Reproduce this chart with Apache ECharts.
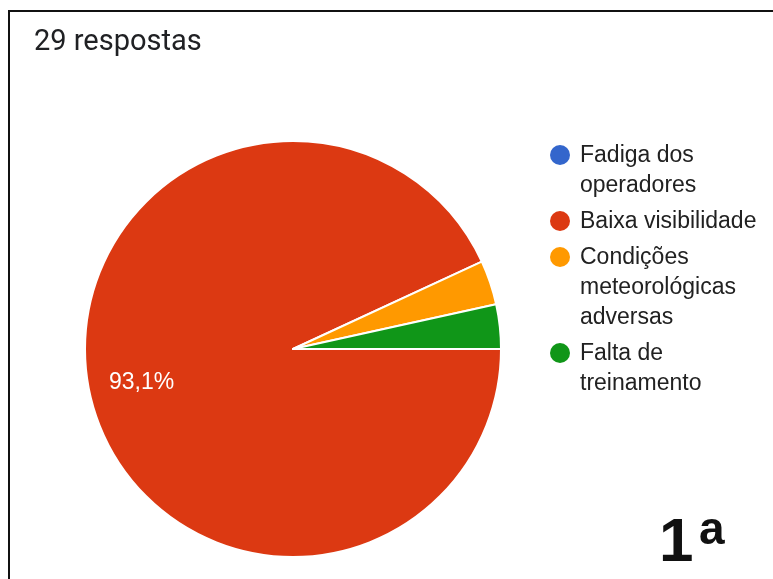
<!DOCTYPE html>
<html>
<head>
<meta charset="utf-8">
<script src="https://cdn.jsdelivr.net/npm/echarts@6/dist/echarts.min.js"></script>
<style>
  html, body { margin: 0; padding: 0; background: #ffffff; }
  #chart { width: 773px; height: 579px; }
</style>
</head>
<body>
<div id="chart"></div>
<script>
// Survey answers (29 respostas)
const categories = ['Fadiga dos operadores', 'Baixa visibilidade', 'Condições meteorológicas adversas', 'Falta de treinamento'];
const counts = [0, 27, 1, 1];
const colors = ['#3366cc', '#dc3912', '#ff9900', '#109618'];
const legendLines = [['Fadiga dos', 'operadores'], ['Baixa visibilidade'], ['Condições', 'meteorológicas', 'adversas'], ['Falta de', 'treinamento']];
const titleText = '29 respostas';
const cornerMark = ['1', 'a'];

const chart = echarts.init(document.getElementById('chart'), null, { renderer: 'canvas' });

const pieData = categories.map((name, i) => ({ name: name, value: counts[i], itemStyle: { color: colors[i] } }));

// Legend: circle + wrapped text, one block per category
const legendGraphics = [];
const lineH = 30, blockGap = 6, legendTop = 156, legendX = 560, textX = 580;
let y = legendTop;
legendLines.forEach((lines, i) => {
  legendGraphics.push({
    type: 'circle', shape: { cx: legendX, cy: y - 1, r: 10 },
    style: { fill: colors[i] }, silent: true
  });
  lines.forEach((ln, k) => {
    legendGraphics.push({
      type: 'text', x: textX, y: y + k * lineH,
      style: { text: ln, fill: '#212121', font: '23px "Liberation Sans", Arial, sans-serif', align: 'left', verticalAlign: 'middle' },
      silent: true
    });
  });
  y += lines.length * lineH + blockGap;
});

const option = {
  backgroundColor: '#ffffff',
  animation: false,
  graphic: [
    // frame lines along the top and left edges
    { type: 'polyline', shape: { points: [[9, 579], [9, 11], [773, 11]] }, style: { stroke: '#111111', lineWidth: 2, fill: null }, silent: true },
    { type: 'text', x: 34, y: 43, style: { text: titleText, fill: '#202124', font: '29px Roboto, "Liberation Sans", sans-serif', verticalAlign: 'middle' }, silent: true },
    { type: 'text', x: 659, y: 544, style: { text: cornerMark[0], fill: '#111111', font: 'bold 62px "Liberation Sans", Arial, sans-serif', verticalAlign: 'middle' }, silent: true },
    { type: 'text', x: 699, y: 531, style: { text: cornerMark[1], fill: '#111111', font: 'bold 46px "Liberation Sans", Arial, sans-serif', verticalAlign: 'middle' }, silent: true }
  ].concat(legendGraphics),
  series: [
    {
      type: 'pie',
      center: [293, 349],
      radius: 208,
      startAngle: 0,
      clockwise: true,
      silent: true,
      label: { show: false },
      labelLine: { show: false },
      itemStyle: { borderColor: '#ffffff', borderWidth: 2 },
      data: pieData
    },
    {
      // transparent copy used only to place the percentage label further out
      type: 'pie',
      center: [293, 349],
      radius: 304,
      startAngle: 0,
      clockwise: true,
      silent: true,
      z: 5,
      itemStyle: { color: 'rgba(0,0,0,0)', borderWidth: 0 },
      labelLine: { show: false },
      label: {
        show: true,
        position: 'inside',
        color: '#ffffff',
        fontSize: 23,
        fontFamily: '"Liberation Sans", Arial, sans-serif',
        formatter: p => (p.percent >= 5 ? p.percent.toFixed(1).replace('.', ',') + '%' : '')
      },
      data: categories.map((name, i) => ({ name: name, value: counts[i] }))
    }
  ]
};

chart.setOption(option);
</script>
</body>
</html>
